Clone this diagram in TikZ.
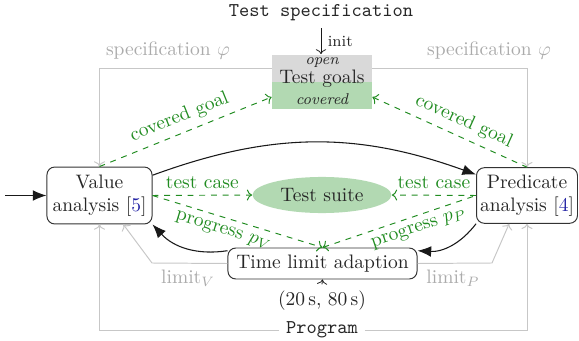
\documentclass[tikz,border=0pt]{standalone}
\usetikzlibrary{arrows.meta,shapes.geometric,calc}
\definecolor{mygreen}{rgb}{0.13,0.55,0.13}
\definecolor{citeblue}{rgb}{0.15,0.15,0.65}
\colorlet{fillgreen}{green!50!black!30}
\colorlet{linegray}{black!22}
\colorlet{txtgray}{black!33}
\colorlet{txtdark}{black!85}
\begin{document}
\begin{tikzpicture}[x=0.513pt,y=-0.513pt,
  box/.style={draw=black!80,rounded corners=4pt,align=center,text=txtdark,inner sep=0pt,line width=0.5pt},
  blk/.style={-{Latex[length=7pt,width=5.5pt]},line width=0.55pt,black!90},
  gar/.style={->,linegray,line width=0.5pt},
  gdash/.style={->,dashed,mygreen,line width=0.5pt},
  glab/.style={text=mygreen},
]
\useasboundingbox (0,0) rectangle (579,341);

% nodes
\node[box,minimum width=53.9pt,minimum height=29.2pt] (value) at (99.5,195.5) {Value\\analysis [\textcolor{citeblue}{5}]};
\node[box,minimum width=51.8pt,minimum height=28.5pt] (pred) at (527,195.5) {Predicate\\analysis [\textcolor{citeblue}{4}]};
\node[box,minimum width=97pt,minimum height=15.9pt] (tl) at (322.5,263.5) {Time limit adaption};
\node[ellipse,fill=fillgreen,minimum width=71.3pt,minimum height=18.5pt,inner sep=0pt,text=txtdark] (suite) at (322,195) {Test suite};
\node[minimum width=51.3pt,minimum height=28.2pt,inner sep=0pt,
  path picture={\fill[gray!30] (path picture bounding box.north west) rectangle (path picture bounding box.east);
                \fill[fillgreen] (path picture bounding box.west) rectangle (path picture bounding box.south east);}] (goals) at (322,82) {};
\node[font=\footnotesize\itshape,text=txtdark] (open) at (322,63) {open};
\node[text=txtdark] (tgl) at (322,79) {Test goals};
\node[font=\footnotesize\itshape,text=txtdark] (cov) at (322,99) {covered};

\node[font=\ttfamily,text=txtdark] (spec) at (321,13) {Test specification};
\node[font=\ttfamily,text=txtdark] (prog) at (322,330) {Program};
\node[text=txtdark] (times) at (322,301) {(20\,s, 80\,s)};

\node[text=txtgray] (specL) at (168,51) {specification $\varphi$};
\node[text=txtgray] (specR) at (489,51) {specification $\varphi$};
\node[text=txtgray] (limv) at (188,278) {limit$_V$};
\node[text=txtgray] (limp) at (453,278) {limit$_P$};

% init and times
\draw[->,black!90] (spec.south) -- (spec.south |- goals.north) node[midway,right,font=\footnotesize,text=txtdark]{init};
\draw[->,black!90] (times.north) -- (tl.south);

% gray lines
\draw[gar] ($(goals.north west)!0.25!(goals.south west)$) -| (value.north);
\draw[gar] ($(goals.north east)!0.25!(goals.south east)$) -| (pred.north);
\draw[gar] (prog.west) -| (value.south);
\draw[gar] (prog.east) -| (pred.south);
\coordinate (lvb) at (152,263);
\coordinate (lpb) at (492,263);
\draw[gar] (tl.west) -- (lvb) -- ($(value.south)!0.45!(value.south east)$);
\draw[gar] (tl.east) -- (lpb) -- ($(pred.south)!0.35!(pred.south west)$);

% black arrows
\coordinate (entry) at (5,195.5);
\draw[blk] (entry) -- (value.west);
\draw[blk] ($(value.north east)!0.15!(value.south east)$) to[bend left=20] ($(pred.north west)!0.13!(pred.south west)$);
\draw[blk] (pred.south west) to[bend left=28] ($(tl.north east)!0.1!(tl.south east)$);
\draw[blk] ($(tl.north west)!0.1!(tl.south west)$) to[bend left=28] (value.south east);

% green dashed
\draw[gdash] (value.north) -- node[glab,above,sloped,pos=0.5]{covered goal} ($(goals.north west)!0.77!(goals.south west)$);
\draw[gdash,<-] ($(goals.north east)!0.77!(goals.south east)$) -- node[glab,above,sloped,pos=0.55]{covered goal} (pred.north);
\draw[gdash] (value.east) -- node[glab,above]{test case} (suite.west);
\draw[gdash] (pred.west) -- node[glab,above]{test case} (suite.east);
\draw[gdash] (value.east) -- node[glab,below,sloped,pos=0.44]{progress $p_V$} (tl.north);
\draw[gdash,<-] (tl.north) -- node[glab,below,sloped,pos=0.6]{progress $p_P$} (pred.west);
\end{tikzpicture}
\end{document}
